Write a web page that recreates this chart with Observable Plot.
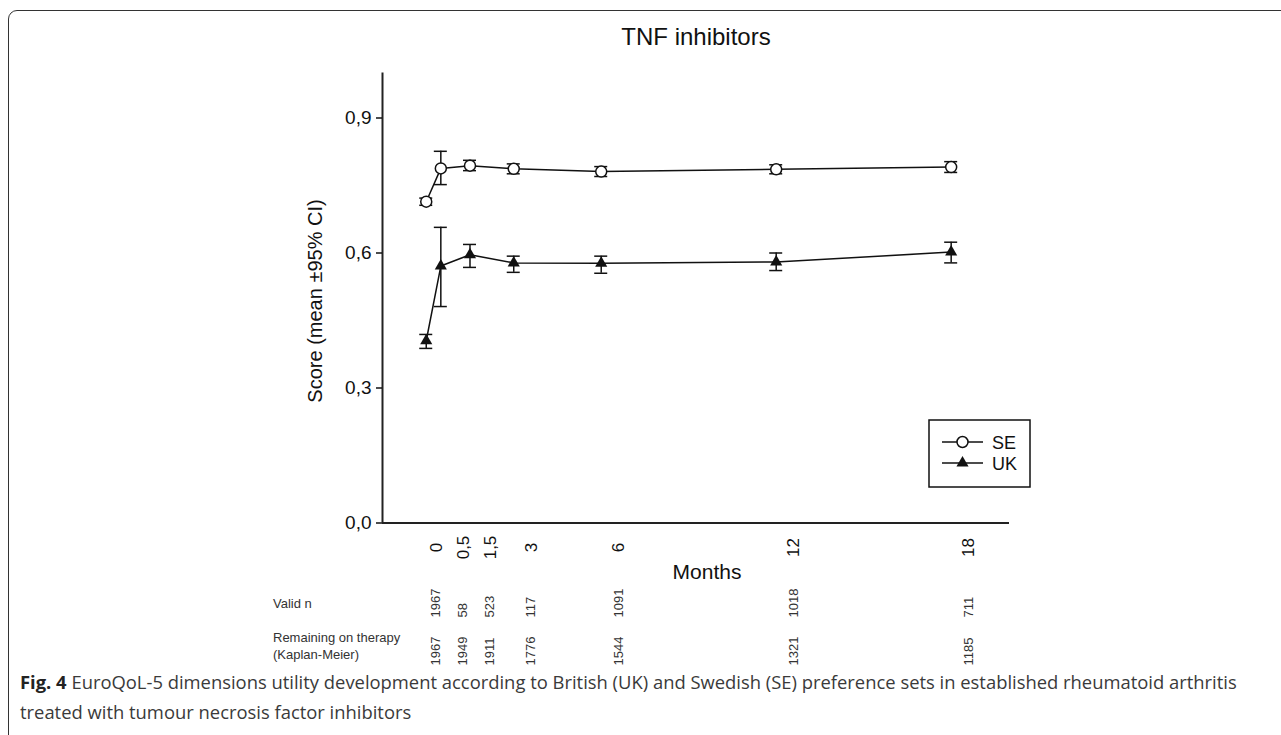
<!DOCTYPE html>
<html><head><meta charset="utf-8">
<script src="https://cdn.jsdelivr.net/npm/d3@7"></script>
<script src="https://cdn.jsdelivr.net/npm/@observablehq/plot@0.6"></script>
<style>
html,body{margin:0;padding:0;background:#fff;}
#wrap{position:relative;width:1281px;height:735px;overflow:hidden;font-family:Arial,"Liberation Sans",sans-serif;}
#frame{position:absolute;left:8px;top:10px;width:1400px;height:800px;border:1.5px solid #333;border-radius:9px;}
#chart{position:absolute;left:0;top:0;}
#overlay{position:absolute;left:0;top:0;pointer-events:none;}
#caption{position:absolute;left:20px;top:667px;width:1255px;font-family:"Open Sans",sans-serif;font-size:18.4px;line-height:30px;color:#3a3a3a;white-space:nowrap;}
#caption .fig{color:#222;font-weight:bold;}
</style></head>
<body>
<div id="wrap">
  <div id="frame"></div>
  <div id="chart"></div>
  <svg id="overlay" width="1281" height="735"></svg>
  <div id="caption">
    <div><span class="fig">Fig. 4</span> <span>EuroQoL-5 dimensions utility development according to British (UK) and Swedish (SE) preference sets in established rheumatoid arthritis</span></div>
    <div>treated with tumour necrosis factor inhibitors</div>
  </div>
</div>
<script>
// ---- data ----
const months = [0, 0.5, 1.5, 3, 6, 12, 18];
const monthLabels = ["0", "0,5", "1,5", "3", "6", "12", "18"];
const seMean = [0.714, 0.788, 0.794, 0.787, 0.781, 0.786, 0.791];
const seLow  = [0.706, 0.752, 0.783, 0.776, 0.770, 0.776, 0.779];
const seHigh = [0.722, 0.826, 0.806, 0.798, 0.792, 0.796, 0.803];
const ukMean = [0.405, 0.571, 0.596, 0.578, 0.577, 0.580, 0.602];
const ukLow  = [0.388, 0.481, 0.568, 0.557, 0.555, 0.561, 0.578];
const ukHigh = [0.419, 0.657, 0.619, 0.593, 0.593, 0.600, 0.624];
const validN = [1967, 58, 523, 117, 1091, 1018, 711];
const remaining = [1967, 1949, 1911, 1776, 1544, 1321, 1185];
const yTicks = [0, 0.3, 0.6, 0.9];
const seriesNames = ["SE", "UK"];

// ---- derived tables ----
const rows = [];
months.forEach((m, i) => {
  rows.push({series: "SE", month: m, mean: seMean[i], low: seLow[i], high: seHigh[i]});
  rows.push({series: "UK", month: m, mean: ukMean[i], low: ukLow[i], high: ukHigh[i]});
});
const se = rows.filter(d => d.series === "SE");
const uk = rows.filter(d => d.series === "UK");

// 1-D dodge of the column labels (in month units) so that close columns don't collide
function dodge(values, sep) {
  const clusters = [];
  values.forEach(v => {
    clusters.push({sum: v, n: 1, start: v});
    while (clusters.length > 1) {
      const b = clusters[clusters.length - 1], a = clusters[clusters.length - 2];
      if (b.start < a.start + a.n * sep) {
        const n = a.n + b.n, sum = a.sum + b.sum;
        clusters.splice(-2, 2, {sum, n, start: sum / n - (n - 1) * sep / 2});
      } else break;
    }
  });
  const out = [];
  clusters.forEach(c => { for (let k = 0; k < c.n; k++) out.push(c.start + k * sep); });
  return out;
}
const colPos = dodge(months.map(m => m + 0.6), 0.93);
const tickRows = months.map((m, i) => ({col: colPos[i], label: monthLabels[i]}));
const tableRows = months.map((m, i) => ({col: colPos[i], valid: validN[i], remaining: remaining[i]}));

const ink = "#111";
const chart = Plot.plot({
  width: 1281, height: 668,
  marginLeft: 382, marginRight: 272, marginTop: 72.5, marginBottom: 145.5,
  style: {fontFamily: "Arial, 'Liberation Sans', sans-serif", background: "transparent", color: ink, overflow: "visible"},
  x: {domain: [-1.5, 20], axis: null},
  y: {domain: [0, 1], label: null},
  marks: [
    Plot.ruleX([-1.5], {y1: 0, y2: 1, stroke: "#222", strokeWidth: 2}),
    Plot.ruleY([0], {x1: -1.5, x2: 20, stroke: "#222", strokeWidth: 2}),
    Plot.axisY({ticks: yTicks, tickFormat: d => d.toFixed(1).replace(".", ","), tickSize: 6, tickPadding: 5, fontSize: 19, label: null, strokeWidth: 1.5}),
    Plot.text(tickRows, {x: "col", y: () => 0, text: "label", rotate: -90, dy: 24.5, fontSize: 17, textAnchor: "middle", fill: ink}),
    Plot.line(rows, {x: "month", y: "mean", z: "series", stroke: ink, strokeWidth: 1.5}),
    Plot.ruleX(rows, {x: "month", y1: "low", y2: "high", stroke: ink, strokeWidth: 1.5}),
    Plot.ruleY(rows, {y: "low", x1: "month", x2: "month", insetLeft: -6.5, insetRight: -6.5, stroke: ink, strokeWidth: 1.5}),
    Plot.ruleY(rows, {y: "high", x1: "month", x2: "month", insetLeft: -6.5, insetRight: -6.5, stroke: ink, strokeWidth: 1.5}),
    Plot.dot(se, {x: "month", y: "mean", r: 5.5, fill: "white", stroke: ink, strokeWidth: 1.5}),
    Plot.dot(uk, {x: "month", y: "mean", r: 4.5, symbol: "triangle", fill: ink, stroke: "none"}),
    Plot.text(tableRows, {x: "col", y: () => 0, text: d => String(d.valid), rotate: -90, textAnchor: "start", dy: 94.5, fontSize: 13, fill: "#333"}),
    Plot.text(tableRows, {x: "col", y: () => 0, text: d => String(d.remaining), rotate: -90, textAnchor: "start", dy: 142.5, fontSize: 13, fill: "#333"})
  ]
});
document.getElementById("chart").appendChild(chart);

// ---- labels, legend ----
const ov = d3.select("#overlay").style("font-family", "Arial, 'Liberation Sans', sans-serif");
ov.append("text").attr("x", 696).attr("y", 45).attr("text-anchor", "middle").attr("font-size", 24).attr("fill", ink).text("TNF inhibitors");
ov.append("text").attr("transform", "translate(315,301) rotate(-90)").attr("text-anchor", "middle").attr("dominant-baseline", "central").attr("font-size", 20).attr("fill", ink).text("Score (mean ±95% CI)");
ov.append("text").attr("x", 707).attr("y", 579).attr("text-anchor", "middle").attr("font-size", 21).attr("fill", ink).text("Months");
const rowLab = [["Valid n", 608], ["Remaining on therapy", 642], ["(Kaplan-Meier)", 659]];
rowLab.forEach(([t, y]) => ov.append("text").attr("x", 273).attr("y", y).attr("font-size", 13).attr("fill", "#333").text(t));

const lg = ov.append("g");
lg.append("rect").attr("x", 929).attr("y", 420).attr("width", 101).attr("height", 67).attr("fill", "white").attr("stroke", ink).attr("stroke-width", 1.5);
seriesNames.forEach((s, i) => {
  const y = 442 + i * 21;
  lg.append("line").attr("x1", 942).attr("x2", 983).attr("y1", y).attr("y2", y).attr("stroke", ink).attr("stroke-width", 1.5);
  if (s === "SE") {
    lg.append("circle").attr("cx", 962.5).attr("cy", y).attr("r", 5.5).attr("fill", "white").attr("stroke", ink).attr("stroke-width", 1.5);
  } else {
    lg.append("path").attr("transform", `translate(962.5,${y})`).attr("d", d3.symbol(d3.symbolTriangle, 4.5 * 4.5 * Math.PI)()).attr("fill", ink);
  }
  lg.append("text").attr("x", 992).attr("y", y + 6.5).attr("font-size", 18).attr("fill", ink).text(s);
});
</script>
</body></html>
